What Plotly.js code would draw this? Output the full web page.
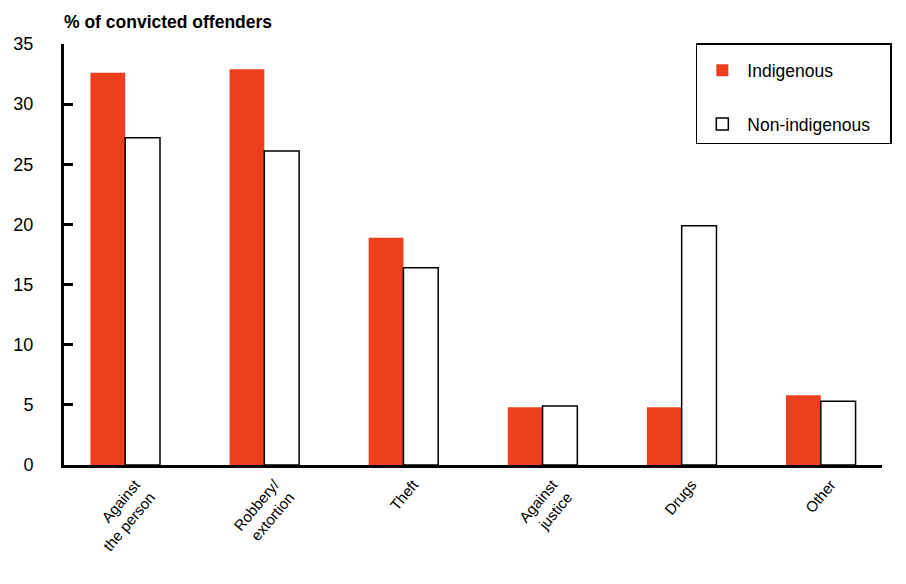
<!DOCTYPE html>
<html>
<head>
<meta charset="utf-8">
<script src="https://cdn.plot.ly/plotly-3.0.1.min.js"></script>
<style>html,body{margin:0;padding:0;background:#fff;}#chart{width:906px;height:584px;}</style>
</head>
<body>
<div id="chart"></div>
<script>
const categories = ["Against<br>the person", "Robbery/<br>extortion", "Theft", "Against<br>justice", "Drugs", "Other"];
const seriesNames = ["Indigenous", "Non-indigenous"];
const indigenous = [32.6, 32.9, 18.9, 4.8, 4.8, 5.8];
const nonIndigenous = [27.2, 26.1, 16.4, 4.9, 19.9, 5.3];
const yTicks = [0, 5, 10, 15, 20, 25, 30, 35];

const FONT = "Liberation Sans Narrow, Liberation Sans, Arial, sans-serif";
const FONT_REG = "Liberation Sans, Arial, sans-serif";
const PAD = "&nbsp;&nbsp;&nbsp;";

const traces = [
  {
    type: "bar", name: seriesNames[0] + PAD, x: categories, y: indigenous,
    marker: {color: "#EC3F1E", line: {width: 0}},
    legendgroup: "a"
  },
  {
    type: "bar", name: seriesNames[1] + PAD, x: categories, y: nonIndigenous,
    marker: {color: "#ffffff", line: {color: "#000000", width: 1.5}},
    legendgroup: "b"
  }
];

const layout = {
  width: 906, height: 584,
  margin: {l: 64, r: 24, t: 44, b: 119},
  paper_bgcolor: "#fff", plot_bgcolor: "#fff",
  font: {family: FONT_REG, color: "#000", size: 16},
  barmode: "group", bargap: 0.5, bargroupgap: 0,
  title: {
    text: "<b>% of convicted offenders</b>",
    font: {family: FONT_REG, size: 17.5, color: "#000"},
    xref: "paper", x: 0, xanchor: "left",
    yref: "container", y: 0.962, yanchor: "middle"
  },
  xaxis: {
    type: "category",
    range: [-0.44, 5.44],
    showline: true, linecolor: "#000", linewidth: 3,
    ticks: "", tickangle: -50,
    ticklabelstandoff: 2, ticklabelshift: 10,
    tickfont: {family: FONT, size: 15, color: "#000"},
    showgrid: false, zeroline: false, fixedrange: true
  },
  yaxis: {
    range: [0, 35],
    tickvals: yTicks,
    ticktext: yTicks.map(String),
    showline: true, linecolor: "#000", linewidth: 3,
    ticks: "inside", ticklen: 9, tickwidth: 3, tickcolor: "#000",
    ticklabelstandoff: 24,
    tickfont: {family: FONT_REG, size: 18, color: "#000"},
    showgrid: false, zeroline: false, fixedrange: true
  },
  showlegend: true,
  legend: {
    x: 1.012, xanchor: "right", y: 1.002, yanchor: "top",
    bordercolor: "#000", borderwidth: 1.5, bgcolor: "#fff",
    traceorder: "grouped", tracegroupgap: 28,
    itemwidth: 40,
    title: {text: "&nbsp;", font: {size: 6}},
    font: {family: FONT_REG, size: 17.5, color: "#000"}
  }
};

Plotly.newPlot("chart", traces, layout, {displayModeBar: false, staticPlot: true});
</script>
</body>
</html>
